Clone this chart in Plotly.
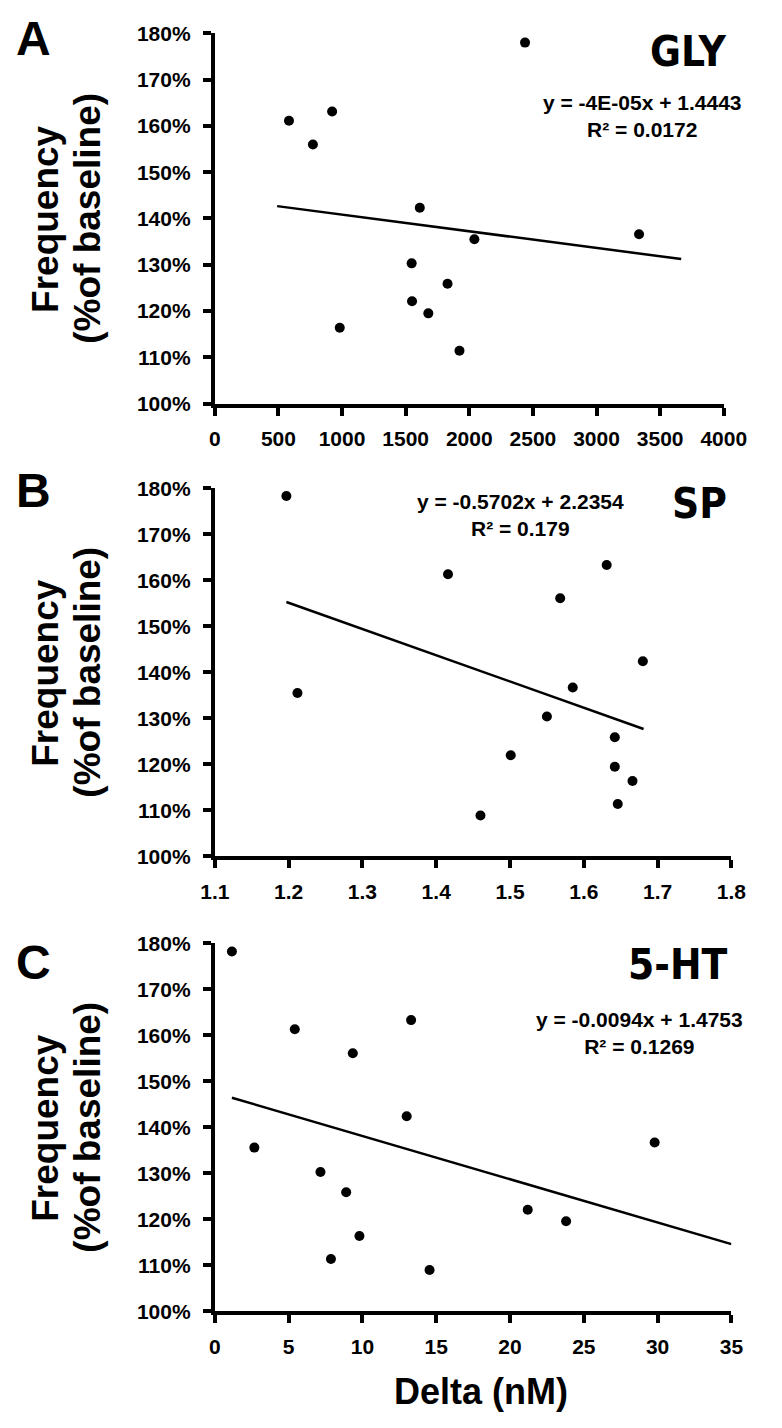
import plotly.graph_objects as go

# ---------------- data ----------------
gly_x = [2438, 583, 922, 771, 1611, 2040, 3334, 1547, 1829, 1550, 1678, 982, 1923]
gly_y = [178.0, 161.1, 163.1, 156.0, 142.3, 135.5, 136.6, 130.3, 125.9, 122.1, 119.5, 116.4, 111.4]

sp_x = [1.197, 1.212, 1.416, 1.631, 1.568, 1.680, 1.585, 1.550, 1.501, 1.642, 1.642, 1.666, 1.646, 1.460]
sp_y = [178.3, 135.5, 161.3, 163.3, 156.1, 142.4, 136.7, 130.4, 122.0, 125.9, 119.5, 116.4, 111.4, 108.9]

ht_x = [1.16, 2.68, 5.42, 13.3, 9.35, 13.0, 29.8, 7.16, 8.9, 21.2, 23.8, 9.8, 7.87, 14.55]
ht_y = [178.2, 135.6, 161.3, 163.3, 156.1, 142.4, 136.7, 130.3, 125.9, 122.1, 119.6, 116.4, 111.4, 109.0]

# trend lines (slope, intercept in fraction units; x start/end)
gly_trend = {"slope": -3.6e-05, "intercept": 1.4443, "x0": 490, "x1": 3665}
sp_trend = {"slope": -0.5702, "intercept": 2.2354, "x0": 1.197, "x1": 1.681}
ht_trend = {"slope": -0.0094, "intercept": 1.4753, "x0": 1.16, "x1": 35}

gly_eq = ["y = -4E-05x + 1.4443", "R² = 0.0172"]
sp_eq = ["y = -0.5702x + 2.2354", "R² = 0.179"]
ht_eq = ["y = -0.0094x + 1.4753", "R² = 0.1269"]

titles = ["GLY", "SP", "5-HT"]
letters = ["A", "B", "C"]

y_ticks = [100, 110, 120, 130, 140, 150, 160, 170, 180]
gly_xticks = [0, 500, 1000, 1500, 2000, 2500, 3000, 3500, 4000]
sp_xticks = [1.1, 1.2, 1.3, 1.4, 1.5, 1.6, 1.7, 1.8]
ht_xticks = [0, 5, 10, 15, 20, 25, 30, 35]

# ---------------- layout geometry (pixels) ----------------
W, H = 782, 1428
panels = [
    dict(x=gly_x, y=gly_y, tr=gly_trend, eq=gly_eq, xt=gly_xticks, xr=[0, 4000],
         xpx=(210, 745), ypx=(398, 21.7), xlabels=[str(v) for v in gly_xticks],
         eqpos=(660, 106), titlepos=(750, 40), letterpos=(19, 27)),
    dict(x=sp_x, y=sp_y, tr=sp_trend, eq=sp_eq, xt=sp_xticks, xr=[1.1, 1.8],
         xpx=(210, 753), ypx=(858.3, 484), xlabels=[f"{v:.1f}" for v in sp_xticks],
         eqpos=(531, 511), titlepos=(750, 500), letterpos=(19, 486)),
    dict(x=ht_x, y=ht_y, tr=ht_trend, eq=ht_eq, xt=ht_xticks, xr=[0, 35],
         xpx=(210, 753), ypx=(1320.7, 946.5), xlabels=[str(v) for v in ht_xticks],
         eqpos=(656, 1038), titlepos=(752, 968), letterpos=(19, 966)),
]

SANS = "Liberation Sans, Arial, sans-serif"
TICKFONT = dict(family=SANS, size=21, color="black", weight="bold")
EQFONT = dict(family=SANS, size=21, color="black", weight="bold")
TITLEFONT = dict(family="Liberation Sans Narrow, DejaVu Sans Condensed, Roboto, sans-serif",
                 size=42, color="black", weight="bold")
LETTERFONT = dict(family=SANS, size=48, color="black", weight="bold")
YTFONT = dict(family=SANS, size=37, color="black", weight="bold")
XTFONT = dict(family=SANS, size=36, color="black", weight="bold")

fig = go.Figure()
annotations = []
layout_axes = {}

for i, p in enumerate(panels):
    n = i + 1
    xa = "x" if n == 1 else f"x{n}"
    ya = "y" if n == 1 else f"y{n}"
    xkey = "xaxis" if n == 1 else f"xaxis{n}"
    ykey = "yaxis" if n == 1 else f"yaxis{n}"

    fig.add_trace(go.Scatter(
        x=p["x"], y=p["y"], mode="markers", xaxis=xa, yaxis=ya,
        marker=dict(color="black", size=10), cliponaxis=False, showlegend=False))
    tr = p["tr"]
    tx = [tr["x0"], tr["x1"]]
    ty = [100 * (tr["slope"] * v + tr["intercept"]) for v in tx]
    fig.add_trace(go.Scatter(
        x=tx, y=ty, mode="lines", xaxis=xa, yaxis=ya,
        line=dict(color="black", width=2.5), cliponaxis=False, showlegend=False))

    xd = [p["xpx"][0] / W, p["xpx"][1] / W]
    yd = [1 - p["ypx"][0] / H, 1 - p["ypx"][1] / H]
    layout_axes[xkey] = dict(
        domain=xd, range=p["xr"], anchor=ya, showline=True, linewidth=4, linecolor="black",
        ticks="outside", ticklen=8, tickwidth=4, tickcolor="black",
        tickvals=p["xt"], ticktext=p["xlabels"], tickfont=TICKFONT,
        showgrid=False, zeroline=False, ticklabelstandoff=5, fixedrange=True)
    layout_axes[ykey] = dict(
        domain=yd, range=[100, 180], anchor=xa, showline=True, linewidth=4, linecolor="black",
        ticks="outside", ticklen=8, tickwidth=4, tickcolor="black",
        tickvals=y_ticks, ticktext=[f"{v}%" for v in y_ticks], tickfont=TICKFONT,
        showgrid=False, zeroline=False, ticklabelstandoff=8, fixedrange=True)

    # equation
    annotations.append(dict(
        text=p["eq"][0] + "<br>" + p["eq"][1], x=p["eqpos"][0] / W, y=1 - p["eqpos"][1] / H,
        xref="paper", yref="paper", xanchor="center", yanchor="middle", showarrow=False,
        align="center", font=EQFONT))
    # title
    annotations.append(dict(
        text=titles[i], x=p["titlepos"][0] / W, y=1 - p["titlepos"][1] / H,
        xref="paper", yref="paper", xanchor="right", yanchor="middle", showarrow=False,
        font=TITLEFONT))
    # panel letter
    annotations.append(dict(
        text=letters[i], x=p["letterpos"][0] / W, y=1 - p["letterpos"][1] / H,
        xref="paper", yref="paper", xanchor="center", yanchor="middle", showarrow=False,
        font=LETTERFONT))
    # y-axis title (two lines)
    ymid = (p["ypx"][0] + p["ypx"][1]) / 2
    annotations.append(dict(
        text="Frequency", x=32 / W, y=1 - ymid / H, xref="paper", yref="paper",
        xanchor="center", yanchor="middle", textangle=-90, showarrow=False, font=YTFONT))
    annotations.append(dict(
        text="(%of baseline)", x=76 / W, y=1 - ymid / H, xref="paper", yref="paper",
        xanchor="center", yanchor="middle", textangle=-90, showarrow=False, font=YTFONT))

annotations.append(dict(
    text="Delta (nM)", x=490 / W, y=1 - 1402 / H, xref="paper", yref="paper",
    xanchor="center", yanchor="middle", showarrow=False, font=XTFONT))

fig.update_layout(
    width=W, height=H, margin=dict(l=0, r=0, t=0, b=0),
    paper_bgcolor="white", plot_bgcolor="white", showlegend=False,
    hovermode=False, annotations=annotations, **layout_axes)

fig.write_html(
    "out.html",
    config={"displayModeBar": False, "staticPlot": True},
    post_script="document.body.style.margin='0';document.body.style.overflow='hidden';")
